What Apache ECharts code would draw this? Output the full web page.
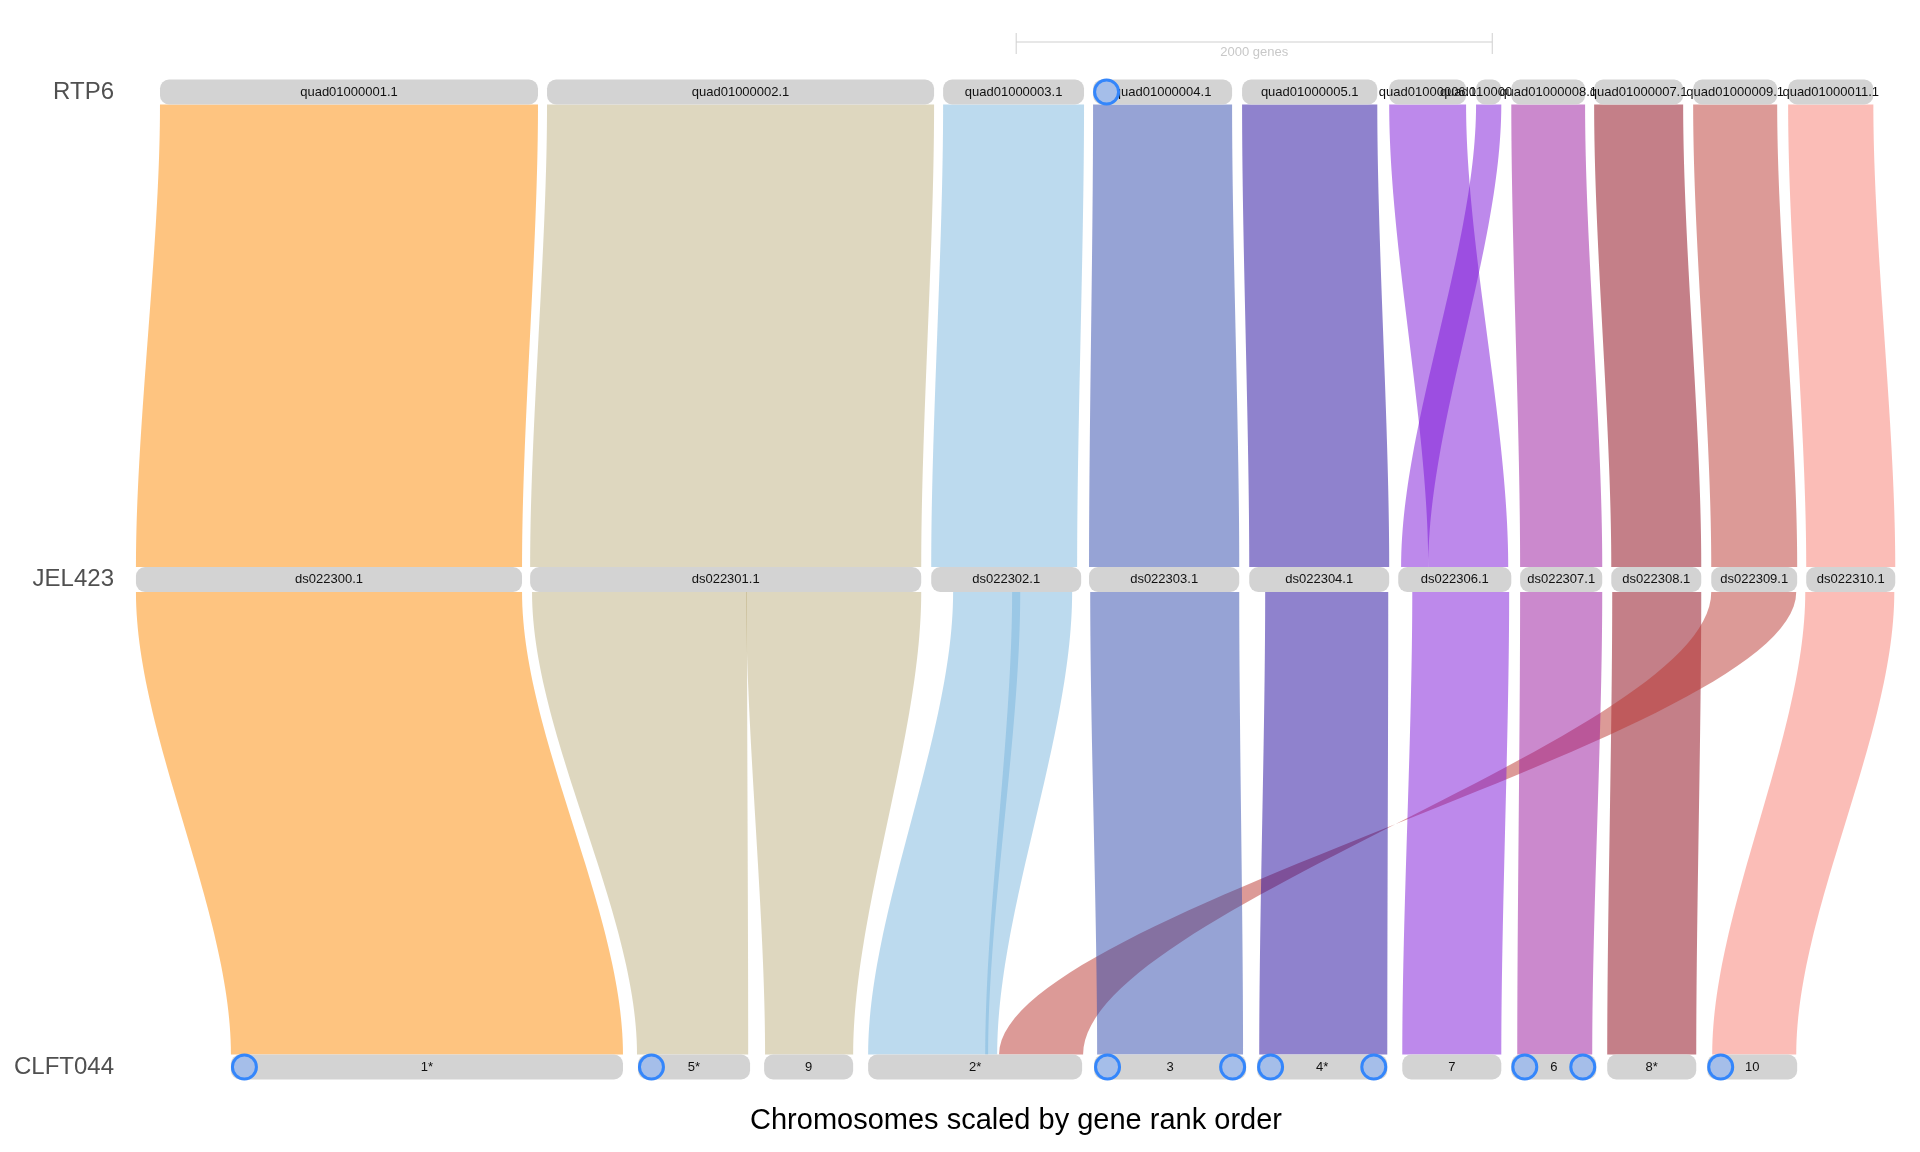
<!DOCTYPE html>
<html>
<head>
<meta charset="utf-8">
<script src="https://cdn.jsdelivr.net/npm/echarts@6/dist/echarts.min.js"></script>
<style>
  html, body { margin: 0; padding: 0; background: #ffffff; }
  #chart { width: 1920px; height: 1152px; }
</style>
</head>
<body>
<div id="chart"></div>
<script>
// Genomes, top to bottom
const genomes = ['RTP6', 'JEL423', 'CLFT044'];

// Chromosome extents on the shared gene-rank axis: [label, start, end]
const chromRTP6 = [
  ['quad01000001.1', 126, 1714],
  ['quad01000002.1', 1752, 3378],
  ['quad01000003.1', 3416, 4008],
  ['quad01000004.1', 4046, 4630],
  ['quad01000005.1', 4672, 5240],
  ['quad01000006.1', 5290, 5613],
  ['quad01000010.1', 5655, 5761],
  ['quad01000008.1', 5803, 6113],
  ['quad01000007.1', 6151, 6525],
  ['quad01000009.1', 6567, 6920],
  ['quad01000011.1', 6966, 7324]
];
const chromJEL423 = [
  ['ds022300.1', 25, 1647],
  ['ds022301.1', 1681, 3324],
  ['ds022302.1', 3366, 3996],
  ['ds022303.1', 4029, 4660],
  ['ds022304.1', 4702, 5290],
  ['ds022306.1', 5328, 5803],
  ['ds022307.1', 5840, 6185],
  ['ds022308.1', 6223, 6601],
  ['ds022309.1', 6643, 7004],
  ['ds022310.1', 7042, 7416]
];
const chromCLFT044 = [
  ['1*', 424, 2071],
  ['5*', 2134, 2605],
  ['9', 2664, 3038],
  ['2*', 3101, 4000],
  ['3', 4050, 4689],
  ['4*', 4735, 5282],
  ['7', 5345, 5761],
  ['6', 5803, 6160],
  ['8*', 6206, 6580],
  ['10', 6626, 7004]
];

// Syntenic blocks between neighbouring genomes:
// [upper start, upper end, lower start, lower end, colour index, inverted]
const blocksRTP6_JEL423 = [
  [126, 1714, 25, 1647, 0, 0],
  [1752, 3378, 1681, 3324, 1, 0],
  [3416, 4008, 3366, 3979, 2, 0],
  [4046, 4630, 4029, 4660, 3, 0],
  [4672, 5240, 4702, 5290, 4, 0],
  [5290, 5613, 5454, 5790, 5, 0],
  [5655, 5761, 5340, 5454, 5, 0],
  [5803, 6113, 5840, 6185, 6, 0],
  [6151, 6525, 6223, 6601, 7, 0],
  [6567, 6920, 6643, 7004, 8, 0],
  [6966, 7324, 7042, 7416, 9, 0]
];
const blocksJEL423_CLFT044 = [
  [25, 1647, 424, 2071, 0, 0],
  [1689, 2592, 2130, 2597, 1, 0],
  [2588, 3324, 2668, 3038, 1, 0],
  [3458, 3740, 3101, 3605, 2, 0],
  [3706, 3958, 3593, 3643, 2, 0],
  [6227, 6601, 6206, 6580, 7, 0],
  [6643, 7000, 3651, 4004, 8, 1],
  [4034, 4660, 4063, 4676, 3, 0],
  [4769, 5286, 4744, 5282, 4, 0],
  [5387, 5794, 5345, 5761, 5, 0],
  [5840, 6185, 5828, 6143, 6, 0],
  [7038, 7412, 6647, 7000, 9, 0]
];

// Telomere markers: [genome index, chromosome label, which end]
const telomeres = [
  [0, 'quad01000004.1', 'start'],
  [2, '1*', 'start'],
  [2, '5*', 'start'],
  [2, '3', 'start'],
  [2, '3', 'end'],
  [2, '4*', 'start'],
  [2, '4*', 'end'],
  [2, '6', 'start'],
  [2, '6', 'end'],
  [2, '10', 'start']
];

// Scale bar: [start, length in genes]
const scaleBar = [3723, 2000];

// Ribbon fills (drawn half transparent so overlaps deepen)
const ribbonPalette = [
  'rgba(253,137,1,0.5)',
  'rgba(189,175,127,0.5)',
  'rgba(121,181,221,0.5)',
  'rgba(45,71,171,0.5)',
  'rgba(31,5,155,0.5)',
  'rgba(123,19,215,0.5)',
  'rgba(151,19,155,0.5)',
  'rgba(137,0,17,0.5)',
  'rgba(185,53,47,0.5)',
  'rgba(247,123,111,0.5)'
];

const BAR_H = 25;
const BAR_R = 9;
const CURVE = 0.31;
const TEL_R = 12;

const chromSets = [chromRTP6, chromJEL423, chromCLFT044];

// flat list of chromosome bars
const barData = [];
chromSets.forEach((set, g) => set.forEach(c => barData.push({ value: [g, c[1], c[2]], name: c[0] })));

// ribbons with the upper genome index prepended
const ribbonData = [];
blocksRTP6_JEL423.forEach(b => ribbonData.push([0].concat(b)));
blocksJEL423_CLFT044.forEach(b => ribbonData.push([1].concat(b)));

// telomere positions resolved from the chromosome table
const telData = telomeres.map(t => {
  const c = chromSets[t[0]].find(r => r[0] === t[1]);
  return [t[0], t[2] === 'start' ? c[1] : c[2], t[2] === 'start' ? 1 : -1];
});

function sEdge(x0, y0, x1, y1, n) {
  const pts = [];
  const dy = y1 - y0;
  const c0 = y0 + CURVE * dy, c1 = y1 - CURVE * dy;
  for (let i = 0; i <= n; i++) {
    const t = i / n, u = 1 - t;
    const b0 = u * u * u, b1 = 3 * u * u * t, b2 = 3 * u * t * t, b3 = t * t * t;
    pts.push([(b0 + b1) * x0 + (b2 + b3) * x1, b0 * y0 + b1 * c0 + b2 * c1 + b3 * y1]);
  }
  return pts;
}

function renderRibbon(params, api) {
  const g = api.value(0);
  const yA = api.coord([0, g])[1] + BAR_H / 2;
  const yB = api.coord([0, g + 1])[1] - BAR_H / 2;
  const a0 = api.coord([api.value(1), g])[0];
  const a1 = api.coord([api.value(2), g])[0];
  let b0 = api.coord([api.value(3), g + 1])[0];
  let b1 = api.coord([api.value(4), g + 1])[0];
  if (api.value(6)) { const tmp = b0; b0 = b1; b1 = tmp; }
  const left = sEdge(a0, yA, b0, yB, 60);
  const right = sEdge(a1, yA, b1, yB, 60).reverse();
  return {
    type: 'polygon',
    shape: { points: left.concat(right) },
    style: { fill: ribbonPalette[api.value(5)], stroke: null }
  };
}

function renderBar(params, api) {
  const g = api.value(0);
  const p0 = api.coord([api.value(1), g]);
  const p1 = api.coord([api.value(2), g]);
  return {
    type: 'group',
    children: [
      {
        type: 'rect',
        shape: { x: p0[0], y: p0[1] - BAR_H / 2, width: p1[0] - p0[0], height: BAR_H, r: BAR_R },
        style: { fill: '#d3d3d3' }
      },
      {
        type: 'text',
        x: (p0[0] + p1[0]) / 2,
        y: p0[1],
        style: {
          text: barData[params.dataIndex].name,
          fill: '#111',
          font: '13px "Liberation Sans", Arial, sans-serif',
          align: 'center',
          verticalAlign: 'middle'
        }
      }
    ]
  };
}

function renderTelomere(params, api) {
  const g = api.value(0);
  const p = api.coord([api.value(1), g]);
  const side = api.value(2);
  return {
    type: 'circle',
    shape: { cx: p[0] + side * (TEL_R + 1.5), cy: p[1], r: TEL_R },
    style: { fill: '#a5bee9', stroke: '#3486fb', lineWidth: 3 }
  };
}

function renderScale(params, api) {
  const s = api.value(0), len = api.value(1);
  const x0 = api.coord([s, 0])[0];
  const x1 = api.coord([s + len, 0])[0];
  const yr = api.coord([s, 0])[1];
  const y = yr - 50;
  const c = '#cfcfcf';
  return {
    type: 'group',
    children: [
      { type: 'line', shape: { x1: x0, y1: y, x2: x1, y2: y }, style: { stroke: c, lineWidth: 1 } },
      { type: 'line', shape: { x1: x0, y1: y - 9, x2: x0, y2: y + 12 }, style: { stroke: c, lineWidth: 1 } },
      { type: 'line', shape: { x1: x1, y1: y - 9, x2: x1, y2: y + 12 }, style: { stroke: c, lineWidth: 1 } },
      {
        type: 'text', x: (x0 + x1) / 2, y: y + 10,
        style: {
          text: len + ' genes', fill: '#c8c8c8',
          font: '13px "Liberation Sans", Arial, sans-serif',
          align: 'center', verticalAlign: 'middle'
        }
      }
    ]
  };
}

const chart = echarts.init(document.getElementById('chart'), null, { renderer: 'canvas' });
chart.setOption({
  animation: false,
  backgroundColor: '#ffffff',
  grid: { left: 130, right: 0, top: 92, bottom: 85, containLabel: false },
  xAxis: {
    type: 'value', min: 0, max: 7520,
    show: false
  },
  yAxis: {
    type: 'category',
    data: genomes,
    inverse: true,
    boundaryGap: false,
    axisLine: { show: false },
    axisTick: { show: false },
    splitLine: { show: false },
    axisLabel: {
      margin: 16,
      fontSize: 24,
      color: '#505050',
      fontFamily: '"Liberation Sans", Arial, sans-serif'
    }
  },
  graphic: [{
    type: 'text',
    x: 1016, y: 1121,
    style: {
      text: 'Chromosomes scaled by gene rank order',
      fill: '#000',
      font: '29px "Liberation Sans", Arial, sans-serif',
      align: 'center',
      verticalAlign: 'middle'
    }
  }],
  series: [
    {
      type: 'custom', name: 'blocks', z: 1,
      renderItem: renderRibbon,
      encode: { x: [1, 2, 3, 4], y: 0 },
      data: ribbonData,
      clip: false
    },
    {
      type: 'custom', name: 'chromosomes', z: 2,
      renderItem: renderBar,
      encode: { x: [1, 2], y: 0 },
      data: barData,
      clip: false
    },
    {
      type: 'custom', name: 'telomeres', z: 3,
      renderItem: renderTelomere,
      encode: { x: 1, y: 0 },
      data: telData,
      clip: false
    },
    {
      type: 'custom', name: 'scale', z: 3,
      renderItem: renderScale,
      encode: { x: 0 },
      data: [scaleBar],
      clip: false
    }
  ]
});
</script>
</body>
</html>
